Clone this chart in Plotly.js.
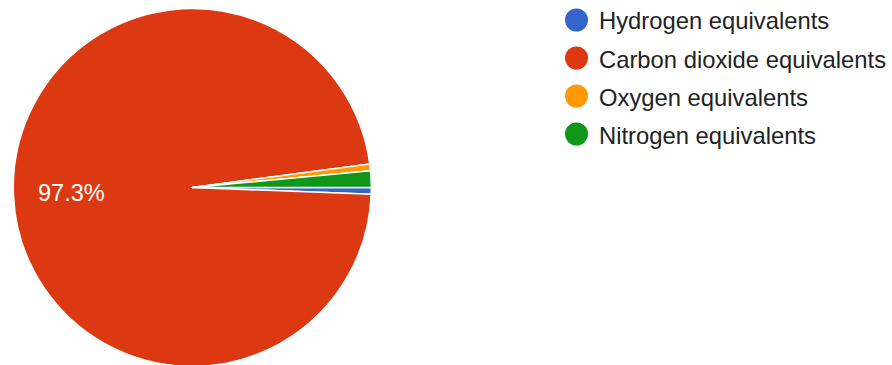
<!DOCTYPE html>
<html><head><meta charset="utf-8">
<script src="https://cdn.plot.ly/plotly-3.0.1.min.js"></script>
<style>html,body{margin:0;padding:0;background:#fff;overflow:hidden}#chart{width:892px;height:368px}</style>
</head><body><div id="chart"></div>
<script>
const labels = ["Hydrogen equivalents", "Carbon dioxide equivalents", "Oxygen equivalents", "Nitrogen equivalents"];
const values = [0.6, 97.3, 0.6, 1.5];
const colors = ["#3366cc", "#dc3912", "#ff9900", "#109618"];
const labelledSlice = 1;

const W = 892, H = 368;
const FONT = "Liberation Sans, Arial, sans-serif";
const pie = {
  type: "pie", labels: labels, values: values, sort: false, direction: "clockwise", rotation: 90,
  marker: {colors: colors, line: {color: "#ffffff", width: 1.5}},
  textinfo: "none", hoverinfo: "label+percent", showlegend: false,
  domain: {x: [13.3 / W, 371.3 / W], y: [(H - 366.5) / H, (H - 8.5) / H]}
};

const total = values.reduce((a, b) => a + b, 0);
const shapes = [], annotations = [];
annotations.push({xref: "paper", yref: "paper", x: 71 / W, y: 1 - 192.5 / H, xanchor: "center", yanchor: "middle",
  text: (values[labelledSlice] / total * 100).toFixed(1) + "%", showarrow: false,
  font: {family: FONT, size: 23.5, color: "#ffffff"}});

const legX = 576.5, legY0 = 20, legStep = 38, rad = 11.5;
labels.forEach((lab, i) => {
  const cy = legY0 + i * legStep;
  shapes.push({type: "circle", xref: "paper", yref: "paper",
    x0: (legX - rad) / W, x1: (legX + rad) / W, y0: 1 - (cy + rad) / H, y1: 1 - (cy - rad) / H,
    fillcolor: colors[i], line: {width: 0}});
  annotations.push({xref: "paper", yref: "paper", x: 597 / W, y: 1 - (cy + 1) / H, xanchor: "left", yanchor: "middle",
    text: lab, showarrow: false, font: {family: FONT, size: 23.8, color: "#222222"}});
});

Plotly.newPlot("chart", [pie], {
  width: W, height: H, margin: {l: 0, r: 0, t: 0, b: 0},
  paper_bgcolor: "#ffffff", showlegend: false, shapes: shapes, annotations: annotations,
  font: {family: FONT}
}, {displayModeBar: false, staticPlot: true});
</script></body></html>
